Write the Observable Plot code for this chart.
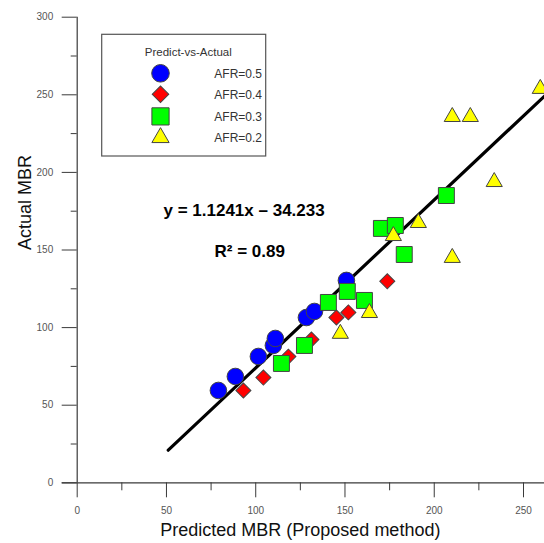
<!DOCTYPE html>
<html>
<head>
<meta charset="utf-8">
<script src="https://cdn.jsdelivr.net/npm/d3@7"></script>
<script src="https://cdn.jsdelivr.net/npm/@observablehq/plot@0.6"></script>
<style>
  html, body { margin: 0; padding: 0; background: #fff; }
  #chart svg { display: block; }
</style>
</head>
<body>
<div id="chart"></div>
<script>
// ---- data ----
const seriesNames = ["AFR=0.5", "AFR=0.4", "AFR=0.3", "AFR=0.2"];
const seriesColors = ["#0000ff", "#ff0000", "#00ff00", "#ffff00"];

const afr05X = [79.1, 88.6, 101.5, 109.9, 111.0, 128.4, 132.9, 150.8];
const afr05Y = [59.5, 68.5, 81.4, 88.5, 93.0, 106.5, 110.4, 130.4];

const afr04X = [93.1, 104.3, 118.3, 131.2, 145.2, 151.9, 173.7];
const afr04Y = [59.5, 67.8, 81.3, 92.3, 106.5, 109.8, 129.8];

const afr03X = [114.4, 127.3, 140.7, 151.3, 160.9, 170.4, 178.2, 183.2, 206.8];
const afr03Y = [76.9, 88.5, 116.2, 123.3, 117.5, 163.9, 165.8, 147.1, 185.1];

const afr02X = [147.4, 163.7, 177.1, 191.1, 210.1, 210.1, 220.2, 233.6, 259.4];
const afr02Y = [96.1, 109.5, 159.1, 167.5, 145.0, 235.8, 235.8, 193.9, 253.9];

const fitX = [51, 263];
const fitY = [21, 250.5];

const xMajorTicks = [0, 50, 100, 150, 200, 250];
const xMinorTicks = [25, 75, 125, 175, 225];
const yMajorTicks = [0, 50, 100, 150, 200, 250, 300];
const yMinorTicks = [25, 75, 125, 175, 225, 275];

const equationText = "y = 1.1241x \u2013 34.233";
const r2Text = "R\u00b2 = 0.89";
const xLabel = "Predicted MBR (Proposed method)";
const yLabel = "Actual MBR";
const legendTitle = "Predict-vs-Actual";

// ---- build tables ----
const toRows = (xs, ys) => xs.map((x, i) => ({x, y: ys[i]}));
const s05 = toRows(afr05X, afr05Y);
const s04 = toRows(afr04X, afr04Y);
const s03 = toRows(afr03X, afr03Y);
const s02 = toRows(afr02X, afr02Y);
const fit = toRows(fitX, fitY);

const W = 544, H = 543;
const mL = 76.7, mR = 21, mT = 16.7, mB = 60.7;
const axisColor = "#3a3a3a";
const stroke = "#444";

const chart = Plot.plot({
  width: W,
  height: H,
  marginLeft: mL,
  marginRight: mR,
  marginTop: mT,
  marginBottom: mB,
  style: {fontFamily: "'Liberation Sans', Arial, sans-serif", background: "#fff", overflow: "visible"},
  x: {domain: [0, 250], label: null},
  y: {domain: [0, 300], label: null},
  marks: [
    // axis lines
    Plot.ruleY([0], {stroke: axisColor, strokeWidth: 1.2, insetLeft: -15, insetRight: -mR}),
    Plot.ruleX([0], {stroke: axisColor, strokeWidth: 1.2}),
    // major / minor ticks
    Plot.axisX({ticks: xMajorTicks, tickSize: 15, tickPadding: 9, fontSize: 10, stroke: axisColor, color: "#555", tickFormat: d => String(d), label: null}),
    Plot.axisX({ticks: xMinorTicks, tickSize: 8, tickFormat: () => "", stroke: axisColor, label: null}),
    Plot.axisY({ticks: yMajorTicks, tickSize: 15, tickPadding: 9, fontSize: 10, stroke: axisColor, color: "#555", tickFormat: d => String(d), label: null}),
    Plot.axisY({ticks: yMinorTicks, tickSize: 6, tickFormat: () => "", stroke: axisColor, label: null}),
    // fit line
    Plot.line(fit, {x: "x", y: "y", stroke: "#000", strokeWidth: 3.2}),
    // series
    Plot.dot(s05, {x: "x", y: "y", symbol: "circle", r: 8.3, fill: seriesColors[0], stroke, strokeWidth: 1}),
    Plot.dot(s04, {x: "x", y: "y", symbol: "square", rotate: 45, r: 6.0, fill: seriesColors[1], stroke, strokeWidth: 1}),
    Plot.dot(s03, {x: "x", y: "y", symbol: "square", r: 9.0, fill: seriesColors[2], stroke, strokeWidth: 1}),
    Plot.dot(s02, {x: "x", y: "y", symbol: "triangle", r: 6.0, fill: seriesColors[3], stroke, strokeWidth: 1}),
    // annotations
    Plot.text([equationText], {frameAnchor: "top-left", dx: 163 - mL, dy: 215 - mT, textAnchor: "start", lineAnchor: "bottom", fontSize: 17, fontWeight: "bold", fill: "#000"}),
    Plot.text([r2Text], {frameAnchor: "top-left", dx: 214 - mL, dy: 256 - mT, textAnchor: "start", lineAnchor: "bottom", fontSize: 17, fontWeight: "bold", fill: "#000"}),
    // axis titles
    Plot.text([xLabel], {frameAnchor: "bottom", dy: 535 - (H - mB), lineAnchor: "bottom", fontSize: 18, fill: "#111"}),
    Plot.text([yLabel], {frameAnchor: "left", dx: 31 - mL, rotate: -90, lineAnchor: "bottom", fontSize: 18, fill: "#111"})
  ]
});

document.getElementById("chart").appendChild(chart);

// ---- legend ----
const svg = d3.select(chart);
const lg = svg.append("g")
  .attr("font-family", "'Liberation Sans', Arial, sans-serif")
  .attr("text-anchor", "start");
lg.append("rect")
  .attr("x", 101.7).attr("y", 34.3).attr("width", 164).attr("height", 121.7)
  .attr("fill", "#fff").attr("stroke", "#555").attr("stroke-width", 1.2);
lg.append("text")
  .attr("x", 188.3).attr("y", 51.7).attr("dy", "0.35em")
  .attr("text-anchor", "middle").attr("font-size", 11.5).attr("fill", "#333")
  .text(legendTitle);
const legendSymbols = [
  {type: d3.symbolCircle, r: 8.8, rot: 0},
  {type: d3.symbolSquare, r: 6.6, rot: 45},
  {type: d3.symbolSquare, r: 9.7, rot: 0},
  {type: d3.symbolTriangle, r: 6.4, rot: 0}
];
const rowY = [73.3, 94.3, 116.4, 137.6];
seriesNames.forEach((name, i) => {
  const s = legendSymbols[i];
  lg.append("path")
    .attr("d", d3.symbol().type(s.type).size(Math.PI * s.r * s.r)())
    .attr("transform", `translate(160.5,${rowY[i]}) rotate(${s.rot})`)
    .attr("fill", seriesColors[i]).attr("stroke", stroke).attr("stroke-width", 1);
  lg.append("text")
    .attr("x", 214.3).attr("y", rowY[i]).attr("dy", "0.35em")
    .attr("text-anchor", "start")
    .attr("font-size", 12).attr("fill", "#333")
    .text(name);
});
</script>
</body>
</html>
